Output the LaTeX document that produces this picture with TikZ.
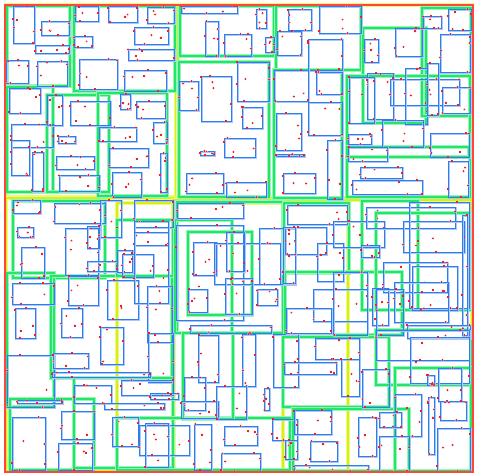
\documentclass[tikz,border=0pt]{standalone}
\definecolor{frameRed}{RGB}{255,70,55}
\definecolor{yel}{RGB}{215,240,20}
\definecolor{yelHalo}{RGB}{235,250,120}
\definecolor{grn}{RGB}{35,230,105}
\definecolor{grnHalo}{RGB}{150,245,185}
\definecolor{blu}{RGB}{45,125,240}
\definecolor{bluHalo}{RGB}{170,200,245}
\definecolor{dotRed}{RGB}{235,35,40}
\definecolor{dotHalo}{RGB}{250,175,175}
\tikzset{
  yhalo/.style={draw=yelHalo,line width=4pt},
  yline/.style={draw=yel,line width=2pt},
  ghalo/.style={draw=grnHalo,line width=3.4pt},
  gline/.style={draw=grn,line width=1.5pt},
  lhalo/.style={draw=bluHalo,line width=2.2pt},
  lline/.style={draw=blu,line width=0.8pt},
  dhalo/.style={fill=dotHalo},
  dcol/.style={fill=dotRed},
  rframe/.style={draw=frameRed,line width=2pt}
}
\newcommand\dt[2]{\fill[dhalo] (#1,#2) circle (1.4);\fill[dcol] ({#1-0.8},{#2-0.8}) rectangle ({#1+0.8},{#2+0.8});}
\newcommand\lf[4]{%
  \draw[lhalo] ({#1+0.9},{#2+0.9}) rectangle ({#3+0.9},{#4+0.9});
  \draw[lline] (#1,#2) rectangle (#3,#4);
  \pgfmathsetmacro\pa{#1+rnd*(#3-#1)}\dt{\pa}{#2}%
  \pgfmathsetmacro\pa{#1+rnd*(#3-#1)}\dt{\pa}{#4}%
  \pgfmathsetmacro\pa{#2+rnd*(#4-#2)}\dt{#1}{\pa}%
  \pgfmathsetmacro\pa{#2+rnd*(#4-#2)}\dt{#3}{\pa}%
  \pgfmathsetmacro\pa{#1+rnd*(#3-#1)}\pgfmathsetmacro\pb{#2+rnd*(#4-#2)}\dt{\pa}{\pb}%
  \pgfmathsetmacro\pa{#1+rnd*(#3-#1)}\pgfmathsetmacro\pb{#2+rnd*(#4-#2)}\dt{\pa}{\pb}%
}
\begin{document}
\begin{tikzpicture}[x=1pt,y=-1pt]
\pgfmathsetseed{11}
\useasboundingbox[fill=white] (0,0) rectangle (477,475);
% level 1 (yellow)
\foreach \a/\b/\c/\d in {6/5/176/197, 178/5/472/198, 6/198/174/471, 117/203/283/471, 173/200/348/471, 283/200/472/471}{
  \draw[yhalo] (\a,\b) rectangle (\c,\d);
  \draw[yline] (\a,\b) rectangle (\c,\d);
}
% level 2 (green)
\foreach \a/\b/\c/\d in {7/6/70/86, 74/6/175/91, 180/6/274/56, 179/62/269/197, 7/87/53/192, 47/95/109/192, 98/93/167/196,
  276/6/361/70, 274/70/342/198, 363/28/426/123, 422/8/471/116, 347/76/470/197, 347/147/469/157,
  13/201/105/278, 7/273/54/407, 51/276/172/378, 117/220/173/276, 177/202/283/333, 175/220/232/333, 188/232/252/315,
  284/203/349/273, 285/272/402/335, 362/201/418/310, 376/213/470/310, 10/399/94/470, 74/378/173/468, 117/418/290/470,
  183/333/233/419, 283/337/389/407, 293/409/409/471, 376/330/471/385, 395/368/471/471}{
  \draw[ghalo] (\a,\b) rectangle (\c,\d);
  \draw[gline] (\a,\b) rectangle (\c,\d);
}
% leaves (blue) with points
\foreach \a/\b/\c/\d in {13/6/34/43, 41/21/69/35, 35/45/69/53, 6/60/28/83, 37/61/67/86, 75/6/98/21, 108/6/137/22, 147/7/174/23,
  134/27/168/44, 74/36/92/47, 128/49/174/60, 79/59/117/89, 124/70/166/91, 9/88/40/113, 11/124/53/147, 11/140/29/175,
  32/152/43/191, 47/95/62/125, 70/101/110/125, 58/136/75/143, 56/156/94/169, 59/175/99/191, 120/94/130/109,
  136/101/165/118, 99/127/136/141, 153/122/167/143, 109/148/148/167, 160/153/167/192, 112/172/141/197,
  179/81/198/110, 201/76/231/121, 200/151/214/155, 186/173/223/193, 181/6/237/13, 205/21/218/56, 224/34/251/56,
  256/9/266/28, 265/37/274/52, 237/62/269/101, 242/107/262/128, 224/138/255/157, 226/182/266/197,
  288/9/311/30, 319/6/361/33, 277/31/301/55, 308/39/342/70, 316/72/342/94, 274/70/308/101, 308/102/342/135,
  276/113/301/150, 276/154/304/156, 283/173/315/193, 327/140/342/199, 364/39/378/62, 395/28/422/56, 423/16/441/28,
  448/9/471/30, 440/34/470/72, 367/73/393/119, 349/77/374/123, 390/79/459/105, 405/68/427/124, 427/63/438/115,
  442/87/470/113, 348/134/371/144, 382/120/423/147, 430/133/469/157, 348/147/387/161, 360/167/402/178,
  352/180/422/194, 448/161/468/197}{
  \lf{\a}{\b}{\c}{\d}
}
\foreach \a/\b/\c/\d in {13/200/40/213, 54/203/105/223, 100/200/121/237, 17/227/33/237, 65/228/98/275, 87/226/99/248,
  87/261/117/271, 21/247/44/278, 12/283/54/304, 68/276/98/305, 15/308/35/338, 61/308/82/337, 100/327/123/364,
  117/250/132/272, 107/280/138/319, 122/254/153/277, 134/200/173/227, 134/221/168/245, 134/232/168/303,
  147/286/172/342, 148/333/173/382, 7/355/54/407, 53/353/88/368, 52/372/150/377, 74/385/111/403, 17/400/62/403,
  104/403/164/409, 121/380/173/395, 150/393/178/399, 12/417/45/470, 61/411/94/439, 58/443/92/470, 112/417/138/446,
  139/425/189/455, 145/423/168/467}{
  \lf{\a}{\b}{\c}{\d}
}
\foreach \a/\b/\c/\d in {177/203/243/218, 176/225/243/320, 193/242/216/275, 214/243/280/284, 226/232/244/271,
  188/289/207/312, 225/278/252/314, 257/289/277/305, 190/325/271/333, 259/228/295/284, 198/335/218/382,
  242/334/255/386, 273/334/298/387, 184/377/205/410, 181/401/218/418, 216/386/246/419, 264/388/269/410,
  194/424/211/470, 224/426/257/445, 221/453/260/471, 272/419/297/440, 285/440/297/459}{
  \lf{\a}{\b}{\c}{\d}
}
\foreach \a/\b/\c/\d in {287/205/347/224, 285/227/326/254, 283/227/295/283, 317/243/343/281, 333/221/384/247,
  361/245/379/257, 313/289/367/321, 333/272/367/335, 286/308/331/333, 366/207/455/228, 403/221/464/252,
  409/202/469/308, 383/262/447/292, 412/266/457/310, 394/282/448/322, 372/288/388/325, 376/289/403/335,
  462/215/467/335, 407/325/470/338, 315/338/359/359, 284/362/336/374, 341/359/359/396, 362/369/389/407,
  376/330/469/360, 410/337/469/383, 438/368/461/401, 440/401/466/420, 427/375/434/385, 428/397/434/454,
  395/394/421/436, 437/428/470/471, 294/410/331/434, 310/441/337/461, 358/417/376/456, 379/412/401/427,
  379/436/409/471, 294/465/368/471}{
  \lf{\a}{\b}{\c}{\d}
}
% root
\draw[rframe] (4.5,4.5) rectangle (473,471.5);
\end{tikzpicture}
\end{document}
